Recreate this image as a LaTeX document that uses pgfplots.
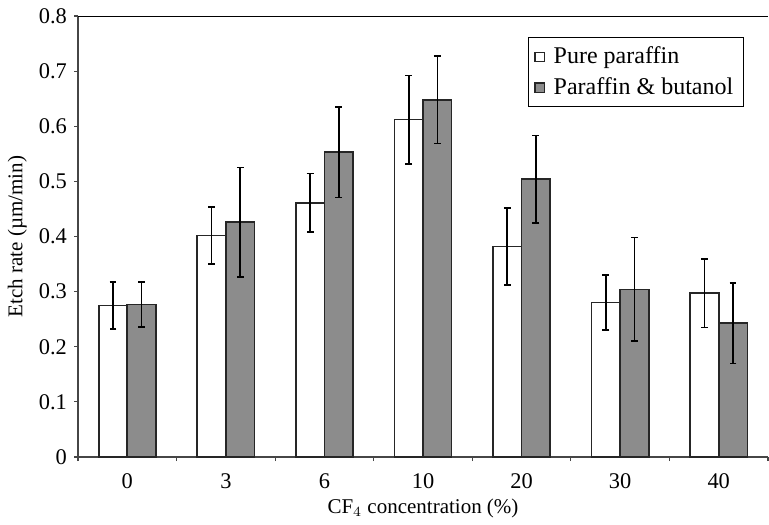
\documentclass[border=0pt]{standalone}
\usepackage{pgfplots}
\pgfplotsset{compat=1.18}
\usepackage{fontspec}
\setmainfont{Liberation Serif}
\definecolor{barg}{RGB}{140,140,140}
\definecolor{axg}{RGB}{70,70,70}
\begin{document}
\begin{tikzpicture}
\begin{axis}[
  scale only axis,
  width=345pt, height=220.5pt,
  font=\fontsize{10.5}{12.6}\selectfont,
  tick label style={font=\fontsize{11.2}{13}\selectfont},
  /pgf/number format/assume math mode=true,
  ymin=0, ymax=0.8,
  ytick={0,0.1,...,0.8},
  yticklabel style={/pgf/number format/fixed,/pgf/number format/precision=1},
  xmin=-0.5, xmax=6.5,
  xtick={0,1,2,3,4,5,6},
  xticklabels={0,3,6,10,20,30,40},
  minor xtick={-0.5,0.5,1.5,2.5,3.5,4.5,5.5,6.5},
  major x tick style={draw=none},
  minor tick length=2pt,
  major tick length=2pt,
  tick align=outside,
  tick style={axg, line width=0.6pt},
  axis x line*=bottom,
  axis y line*=left,
  axis line style={axg, line width=0.8pt},
  x tick label style={yshift=-3pt},
  xlabel={CF$_4$ concentration (\%)},
  ylabel={Etch rate (µm/min)},
  xlabel style={at={(axis description cs:0.5,-0.116)}, anchor=center},
  ylabel style={at={(axis description cs:-0.088,0.5)}, anchor=center},
  ybar=0pt,
  bar width=0.29,
  legend style={at={(0.965,0.952)}, anchor=north east, draw=black, line width=0.6pt,
    font=\fontsize{12}{14}\selectfont, row sep=1.5pt, inner xsep=3pt, inner ysep=2.5pt,
    cells={anchor=west}, /tikz/column 1/.style={column sep=2.5pt}},
  legend image code/.code={\draw[#1, line width=0.6pt] (0pt,-2.3pt) rectangle (4.6pt,2.3pt);},
  legend cell align=left,
]
\addplot[draw=black!85, fill=white, line width=0.8pt, bar shift=-0.145,
  error bars/.cd, y dir=both, y explicit,
  error bar style={black, line width=0.8pt},
  error mark options={rotate=90, mark size=1.7pt, line width=0.8pt}]
  coordinates {
  (0,0.275) +- (0,0.043)
  (1,0.402) +- (0,0.052)
  (2,0.461) +- (0,0.053)
  (3,0.612) +- (0,0.080)
  (4,0.382) +- (0,0.070)
  (5,0.280) +- (0,0.050)
  (6,0.297) +- (0,0.062)
  };
\addlegendentry{Pure paraffin}
\addplot[draw=black!85, fill=barg, line width=0.8pt, bar shift=0.145,
  error bars/.cd, y dir=both, y explicit,
  error bar style={black, line width=0.8pt},
  error mark options={rotate=90, mark size=1.7pt, line width=0.8pt}]
  coordinates {
  (0,0.277) +- (0,0.041)
  (1,0.426) +- (0,0.099)
  (2,0.553) +- (0,0.082)
  (3,0.648) +- (0,0.079)
  (4,0.504) +- (0,0.079)
  (5,0.304) +- (0,0.094)
  (6,0.243) +- (0,0.073)
  };
\addlegendentry{Paraffin \& butanol}
\draw[black, line width=0.6pt] (rel axis cs:0,1) -- (rel axis cs:1,1);
\end{axis}
\path ([xshift=-39pt,yshift=8pt]current axis.north west) ([xshift=0.5pt,yshift=-31.5pt]current axis.south east);
\end{tikzpicture}
\end{document}
